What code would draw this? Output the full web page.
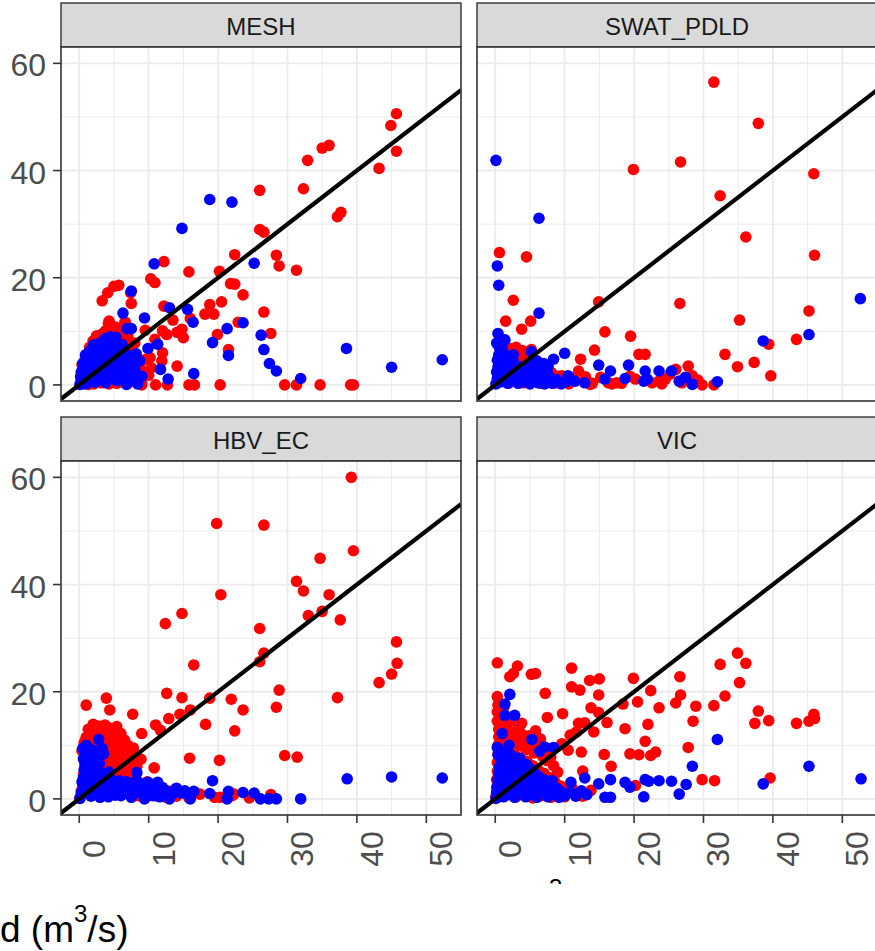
<!DOCTYPE html>
<html>
<head>
<meta charset="utf-8">
<script src="https://cdn.jsdelivr.net/npm/d3@7"></script>
<style>
  body { margin: 0; background: #fff; }
  text { font-family: "Liberation Sans", Arial, sans-serif; }
</style>
</head>
<body>
<div id="wrapper"></div>
<script>
// facet names and ticks
const panels = ["MESH", "SWAT_PDLD", "HBV_EC", "VIC"];
const xTicks = [0, 10, 20, 30, 40, 50];
const yTicks = [0, 20, 40, 60];
const xMinor = [5, 15, 25, 35, 45];
const yMinor = [10, 30, 50];

const meshRed = [
  [45.7,50.6],[44.9,48.4],[45.7,43.6],[43.2,40.4],[36.0,44.7],[35.0,44.2],[32.9,41.9],[32.3,36.6],
  [37.7,32.2],[37.2,31.4],[26.0,36.3],[26.0,29.0],[26.6,28.5],[22.4,24.3],[28.4,24.2],[28.8,22.2],
  [31.3,21.4],[12.2,23.0],[15.8,21.1],[20.2,21.2],[10.3,19.8],[10.9,19.1],[21.8,18.9],[22.4,18.8],
  [23.6,16.8],[26.6,13.6],[27.6,9.6],[20.5,15.5],[18.8,15.0],[19.4,13.2],[18.1,13.2],[22.9,11.7],
  [19.9,9.4],[21.5,6.6],[16.0,12.4],[12.2,14.7],[13.5,12.1],[12.0,10.1],[14.1,9.8],[14.8,10.4],
  [15.0,8.8],[12.6,9.4],[9.5,10.2],[10.9,8.5],[12.0,6.0],[14.1,3.5],[11.9,4.5],[10.2,5.1],
  [11.0,0],[12.7,0],[15.8,0],[16.6,0],[20.3,0],[29.6,0],[31.3,0],[34.7,0],[39.1,0],[39.5,0],
  [9.0,0],[8.3,3.5],[3.3,15.7],[4.1,17.2],[5.0,18.4],[5.7,18.6],[7.4,17.2],[7.5,15.2],[4.3,11.9],
  [3.8,10.1],[2.5,9.1],[6.6,11.7],[5.7,8.5],
  [0.2,0.5],[0.3,2.0],[0.4,3.8],[0.8,4.6],[0.5,1.2],[1.0,2.8],[1.2,5.5],[1.5,7.0],[2.0,8.2],
  [2.5,9.1],[3.0,8.5],[3.4,9.6],[3.8,10.1],[4.2,11.5],[4.6,9.0],[5.2,10.8],[5.7,8.5],[6.1,9.8],
  [6.6,11.7],[5.0,7.5],[6.8,7.2],[7.4,6.0],[7.9,5.0],[8.3,4.2],[8.8,3.1],[9.2,2.4],[7.1,3.8],
  [7.7,2.0],[8.4,1.0],[9.0,0.3],[6.2,1.0],[6.9,0.2],[5.4,0.3],[4.3,0.2],[3.2,0.4],[2.1,0.2],
  [1.3,0.1],[9.6,4.8],[10.4,3.2],[10.0,1.8],[2.8,6.5],[3.6,7.2],[4.4,6.0],[2.2,4.5],[1.7,3.2],
  [6.0,5.5],[8.0,7.8],[7.0,9.0]
];
const meshBlue = [
  [18.8,34.6],[22.0,34.1],[14.8,29.2],[10.8,22.6],[25.2,22.7],[7.5,17.5],[6.3,13.4],[9.4,12.5],
  [13.0,14.4],[15.6,14.1],[16.4,11.7],[23.6,11.6],[21.3,10.5],[26.2,9.3],[26.6,6.6],[27.4,4.0],
  [28.4,2.6],[31.9,1.2],[38.5,6.8],[45.0,3.3],[52.3,4.7],[19.2,7.9],[21.5,5.5],[16.5,2.1],
  [11.7,2.9],[12.8,1.1],[11.3,7.6],[9.9,6.8],[8.3,1.4],[6.8,0.1],[5.3,8.9],[6.9,10.5],[7.5,10.5],
  [8.2,5.8],[8.7,4.5],
  [0.1,0.1],[0.4,0.6],[0.8,1.2],[1.1,0.3],[1.4,2.0],[1.8,1.1],[2.0,3.0],[2.3,0.5],[2.6,2.2],
  [2.9,4.0],[3.1,1.3],[3.3,5.5],[3.5,3.2],[3.8,0.4],[4.0,2.5],[4.2,4.6],[4.4,7.0],[4.6,1.5],
  [4.8,5.8],[5.0,3.6],[5.2,8.3],[5.4,0.8],[5.6,2.7],[5.8,6.6],[6.0,4.4],[6.3,1.9],[6.5,5.2],
  [6.8,3.1],[7.0,0.5],[7.3,2.4],[7.6,4.1],[7.9,1.3],[8.4,0.2],[1.0,4.8],[1.5,6.3],[2.1,7.5],
  [1.6,5.0],[2.5,6.0],[3.0,7.8],[3.7,8.6],[2.2,3.8],[0.6,3.2],[1.2,3.6],[3.9,6.4],[4.5,9.0],
  [6.2,7.5],[0.3,2.4],[0.9,5.6],[5.3,4.0],[2.7,1.0],[3.4,2.0],[4.1,3.6],[5.9,2.6],[6.7,1.1],
  [7.2,3.7],[8.0,2.9],[9.0,1.6],
  [0.5,4.0],[1.3,1.0],[2.4,2.9],[3.2,6.6],[4.3,8.0],[5.5,7.2],[6.6,6.0],[7.4,5.4],[1.9,5.5],
  [2.8,4.9],[3.6,4.4],[4.7,2.2],[5.7,1.4],[6.4,3.7],[0.2,1.5],[1.0,2.4],[3.9,5.0],[5.1,6.2],
  [6.9,4.6],[0.7,0.2]
];

const swatRed = [
  [31.5,56.5],[37.9,48.8],[19.9,40.2],[26.7,41.6],[45.9,39.4],[32.4,35.3],[36.1,27.6],[46.0,24.2],
  [0.6,24.7],[4.5,23.9],[2.6,15.8],[14.9,15.5],[26.6,15.2],[1.5,11.9],[5.1,11.9],[3.8,10.4],
  [15.8,9.9],[19.5,9.1],[35.2,12.1],[45.2,13.8],[43.4,8.5],[39.4,7.6],[33.1,5.7],[34.9,3.4],
  [37.3,4.2],[39.7,1.7],[14.3,6.5],[12.3,4.8],[20.7,5.7],[21.6,5.7],[3.0,7.0],[5.2,6.6],
  [17.5,0.4],[20.2,1.1],[22.6,0.4],[26.0,2.9],[27.8,3.5],[28.4,1.7],[29.8,0],[31.5,0],[23.6,0.7],
  [16.3,0.4],[12.0,2.6],[9.6,1.7],[5.9,3.2],[8.1,2.3],[13.7,0.1],[24.5,1.1],
  [0.2,0.3],[0.5,1.5],[0.8,3.0],[1.0,4.5],[1.5,6.0],[2.1,6.8],[2.8,5.5],[3.2,4.6],[2.5,3.6],
  [3.6,3.0],[4.2,2.5],[4.8,3.5],[5.4,2.0],[6.0,1.2],[6.6,2.6],[7.2,1.8],[7.8,0.8],[8.5,0.3],
  [9.1,1.6],[9.8,0.5],[10.6,0.2],[11.2,1.2],[6.5,0.3],[5.2,0.6],[4.0,0.4],[3.0,1.0],[2.0,0.4],
  [1.2,1.9],[1.8,2.6],[4.6,5.2],[3.9,6.4],[5.6,4.2],[6.3,3.4],[13.0,1.5],[14.0,0.3],[15.2,1.4],
  [16.8,0.2],[18.2,0.3],[19.4,1.6],[24.0,0.2],[25.2,2.0],[26.9,0.4],[29.2,0.9]
];
const swatBlue = [
  [0.1,41.9],[6.3,31.1],[0.3,22.2],[0.5,18.6],[6.3,13.4],[0.4,9.6],[1.4,8.4],[52.6,16.1],
  [45.2,9.4],[38.6,8.2],[32.0,0.6],[10.0,5.9],[14.9,3.7],[16.6,2.6],[19.2,3.7],[18.7,1.2],
  [21.6,2.6],[23.6,2.6],[25.4,2.6],[21.9,1.1],[26.5,0.7],[27.4,1.4],[28.4,0.1],[21.4,0.7],
  [15.8,1.1],[12.9,0.4],[11.5,0.7],[8.4,4.8],[7.6,3.5],[5.2,6.2],[10.5,1.7],
  [0.1,0.2],[0.3,1.2],[0.2,2.4],[0.4,3.4],[0.3,4.6],[0.5,5.6],[0.8,6.4],[0.9,0.6],[1.1,1.8],
  [1.2,3.0],[1.4,4.2],[1.6,5.2],[1.8,0.3],[2.0,1.4],[2.2,2.5],[2.4,3.6],[2.7,0.8],[3.0,1.9],
  [3.3,0.3],[3.6,1.2],[3.9,2.3],[4.2,0.6],[4.6,1.5],[5.0,0.2],[5.4,0.9],[5.8,2.0],[6.2,0.4],
  [6.7,1.3],[7.1,0.2],[7.6,0.8],[8.2,0.3],[8.8,1.0],[9.5,0.2],[10.2,0.6],[0.6,7.0],[1.0,6.8],
  [2.6,4.4],[3.6,3.4],[4.5,3.0],[5.3,3.9],[6.0,4.5],[7.0,4.0],[1.5,0.9],[2.9,2.8],[4.0,1.0],
  [0.7,2.0],[0.2,7.8],[1.2,5.9],[2.0,4.6],[3.2,3.0],[4.8,2.5],[6.4,2.8],[7.6,2.0],[2.6,5.6],
  [0.6,5.0]
];

const hbvRed = [
  [39.2,60.0],[19.8,51.4],[26.6,51.1],[39.5,46.3],[34.7,44.9],[31.3,40.6],[32.3,38.8],[36.0,38.1],
  [20.4,38.1],[33.0,34.2],[35.0,35.0],[37.6,33.4],[14.8,34.6],[12.4,32.7],[26.0,31.8],[26.6,27.2],
  [26.0,25.6],[45.7,29.3],[45.8,25.3],[45.0,23.3],[43.2,21.7],[37.2,18.9],[16.5,25.0],[28.8,20.3],
  [28.4,17.1],[21.9,18.6],[23.6,16.6],[22.4,12.7],[18.2,13.9],[18.8,18.8],[12.6,19.7],[14.8,18.9],
  [14.5,15.8],[16.0,16.6],[12.9,15.0],[11.0,13.8],[11.7,12.8],[15.9,7.6],[20.2,7.2],[29.6,8.1],
  [31.4,7.8],[9.0,12.2],[7.7,15.8],[8.9,7.4],[10.8,5.8],[3.9,18.8],[4.4,16.6],[1.0,17.5],
  [27.6,0.8],[22.3,0.9],[20.3,0.3],[13.6,1.6],[9.8,0.9],
  [0.1,0.2],[0.3,1.5],[0.5,3.0],[0.6,4.5],[0.8,6.0],[0.9,7.5],[1.0,9.0],[1.2,10.5],[1.5,11.8],
  [1.8,12.8],[2.2,13.4],[2.7,13.6],[3.2,13.1],[3.7,13.8],[4.3,13.2],[4.9,12.6],[5.4,13.5],
  [6.0,12.2],[6.5,11.0],[7.0,10.0],[7.4,8.6],[2.0,11.0],[2.6,10.2],[3.3,11.5],[4.0,10.8],
  [4.6,9.8],[5.3,10.8],[5.8,9.2],[6.3,8.1],[3.0,8.8],[3.8,9.0],[4.5,7.6],[5.2,6.8],[6.1,5.8],
  [6.8,5.0],[7.6,4.2],[8.2,3.5],[8.8,2.5],[9.5,1.6],[10.2,0.9],[11.2,0.5],[12.5,0.3],[14.0,0.5],
  [15.8,0.2],[17.4,0.9],[19.5,0.3],[22.0,0.6],[24.5,0.2],[2.4,12.0],[1.4,8.5],[3.5,12.3],
  [6.4,4.0],[7.0,2.8],[8.0,1.5],[5.6,1.2],[4.7,2.6],[6.0,2.2],[7.2,7.0],[8.3,6.1],[1.6,4.0],
  [2.1,6.6],[2.9,5.2],[4.0,4.5],[5.0,3.6],[3.5,2.0],[2.2,1.0],[1.0,2.5],[8.5,0.6],[9.8,3.2],
  [10.4,2.4],[5.5,8.0],[4.2,6.2],[3.6,7.0],
  [1.0,11.5],[1.3,13.0],[2.0,13.9],[2.9,12.6],[3.6,12.6],[4.6,11.4],[5.8,11.0],[6.7,9.5],
  [7.8,9.5],[8.2,8.0],[1.8,9.8],[2.5,8.4],[3.2,9.8],[4.2,8.4],[5.0,8.9],[6.2,6.9],[7.5,5.8],
  [0.7,10.5],[0.4,9.0],[1.3,5.6],[2.5,4.2],[3.5,5.8],[4.8,5.2],[5.8,4.6],[7.0,3.8]
];
const hbvBlue = [
  [38.6,3.75],[45.0,4.1],[52.3,3.9],[31.9,0],[19.2,3.4],[8.3,4.9],[9.9,3.1],[11.3,3.1],
  [2.8,11.1],[3.5,8.4],[10.8,1.4],[12.6,1.5],[14.8,1.1],[16.5,1.4],[18.8,1.0],[21.5,1.4],
  [23.6,1.2],[25.2,1.1],[26.1,0],[27.3,0],[28.4,0],[16.0,0],[21.3,0],[9.4,0],[13.0,0],
  [0.1,0.1],[0.3,1.2],[0.5,2.6],[0.6,4.0],[0.7,5.4],[0.8,6.8],[0.9,8.0],[1.2,9.0],[1.6,9.3],
  [2.2,9.0],[2.8,8.0],[1.3,7.2],[1.8,6.4],[2.3,5.6],[2.9,6.6],[3.4,4.8],[1.5,3.5],[2.0,2.4],
  [2.6,3.8],[3.1,2.8],[3.7,1.6],[1.1,1.5],[1.7,0.5],[2.4,0.9],[3.0,0.3],[3.5,3.5],[4.0,2.4],
  [4.5,1.2],[5.0,3.0],[5.5,2.0],[6.0,0.6],[6.5,2.6],[7.0,1.5],[7.5,0.3],[8.0,2.4],[8.5,1.2],
  [9.0,2.2],[9.6,0.6],[4.2,0.4],[5.2,0.7],[6.8,3.2],[7.8,3.0],[4.6,3.6],[5.8,3.4],[3.8,4.2],
  [2.5,7.2],[1.9,8.1],[0.4,3.2],[3.3,9.4],[2.0,4.6],[4.3,5.0],[10.2,2.0],[11.0,1.6],[12.0,2.1],
  [13.5,1.0],
  [0.5,9.4],[1.0,10.0],[1.4,8.0],[2.2,7.8],[0.6,7.5],[1.1,6.2],[1.6,5.0],[2.4,4.4],[3.0,4.2],
  [1.3,2.6],[0.9,3.6],[2.7,1.8],[3.8,3.2],[4.4,2.2],[5.4,1.2],[6.2,1.6],[7.3,2.5],[8.7,3.0],
  [9.6,1.8],[10.6,0.6],[11.6,0.4],[12.8,1.0],[14.0,2.0],[15.2,1.5]
];

const vicRed = [
  [34.9,27.2],[36.1,25.3],[32.4,25.1],[35.2,21.7],[33.1,19.2],[31.5,17.4],[28.9,17.3],[26.6,22.8],
  [26.7,19.4],[26.0,17.9],[28.5,14.5],[37.9,16.4],[37.4,14.1],[39.4,14.6],[43.4,14.1],[45.9,15.8],
  [46.0,15.0],[45.2,14.5],[39.6,3.9],[29.8,3.6],[31.6,3.4],[27.8,9.6],[19.9,22.5],[22.4,20.2],
  [20.5,18.1],[23.6,17.0],[22.0,13.9],[18.7,13.1],[21.6,10.75],[19.4,8.4],[20.7,8.25],[23.1,8.75],
  [22.4,8.1],[16.7,6.1],[15.7,8.3],[18.4,17.7],[14.9,19.4],[15.0,22.4],[13.6,22.1],[11.0,24.4],
  [11.0,20.9],[12.2,20.3],[13.8,17.0],[14.9,16.1],[16.1,14.25],[14.2,12.5],[12.0,14.1],[12.9,14.2],
  [9.7,15.9],[7.5,15.2],[7.2,19.7],[5.2,23.25],[5.8,23.4],[3.2,24.8],[2.1,22.8],[2.6,23.4],
  [0.3,25.4],[0.3,19.1],[0.3,16.25],[20.2,2.5],[12.6,5.2],[10.5,9.1],[12.4,8.75],[10.8,11.9],
  [11.7,12.5],[9.6,10.3],[5.8,12.7],[3.8,14.1],
  [0.1,0.5],[0.2,2.0],[0.2,3.6],[0.3,5.2],[0.3,6.8],[0.4,8.4],[0.4,10.0],[0.5,11.6],[0.5,13.0],
  [1.2,12.4],[1.8,11.0],[2.4,12.2],[3.0,11.5],[3.5,10.0],[4.0,11.0],[4.4,9.2],[5.0,10.0],
  [5.6,8.6],[6.2,9.6],[6.8,8.0],[7.4,7.2],[8.0,7.8],[2.0,9.2],[2.8,8.2],[3.6,7.6],[4.6,7.0],
  [5.4,6.2],[6.2,5.4],[7.0,4.8],[7.8,4.0],[8.6,3.2],[9.4,2.4],[10.2,1.6],[11.0,2.2],[12.0,1.2],
  [1.0,8.0],[1.5,6.4],[2.3,5.6],[3.1,4.8],[4.0,4.0],[5.0,3.2],[6.0,2.0],[7.0,1.0],[8.0,0.3],
  [5.4,0.2],[4.6,1.2],[9.0,0.8],[10.0,0.4],[1.0,3.2],[1.6,1.2],[3.0,0.4],[6.6,0.6],[12.6,0.5],
  [13.8,1.6],[0.8,14.3],[1.6,13.6],[3.2,13.0],[2.2,14.5],
  [0.6,15.5],[0.4,17.5],[1.0,15.0],[1.5,10.0],[2.6,10.5],[3.6,12.4],[4.8,11.8],[5.6,11.0],
  [6.5,11.2],[7.5,9.4],[8.4,6.2],[9.0,5.0],[1.2,17.0],[0.3,14.5]
];
const vicBlue = [
  [2.1,19.5],[1.4,17.7],[1.4,15.6],[2.8,15.6],[32.0,11.1],[28.4,6.1],[45.2,6.1],[52.7,3.75],
  [38.6,2.8],[12.9,3.9],[16.6,3.6],[14.9,2.8],[18.7,3.1],[19.4,2.2],[21.6,3.6],[22.1,3.3],
  [23.6,3.4],[25.4,3.3],[27.5,2.7],[26.5,0.9],[15.8,0.3],[16.6,0.3],[21.4,0.4],[13.2,0.8],
  [11.7,0.9],[10.9,3.1],[1.0,12.2],[5.3,11.1],[6.4,8.9],[7.1,9.7],[8.4,9.6],
  [0.1,0.1],[0.2,1.2],[0.3,2.4],[0.4,3.6],[0.5,4.8],[0.6,6.0],[0.8,7.2],[1.0,8.2],[1.5,8.6],
  [2.0,7.6],[2.5,8.0],[3.0,7.0],[3.5,7.6],[1.2,5.4],[1.8,6.2],[2.4,5.0],[3.0,5.8],[3.6,4.6],
  [4.2,5.4],[1.0,3.0],[1.6,2.0],[2.2,3.2],[2.8,2.2],[3.4,3.0],[4.0,2.0],[4.6,3.2],[5.2,2.2],
  [5.8,3.4],[6.4,2.4],[7.0,3.6],[7.6,2.6],[8.2,3.4],[8.8,2.0],[9.4,1.4],[10.0,0.6],[1.2,0.4],
  [2.0,0.8],[2.8,0.3],[3.6,1.0],[4.4,0.4],[5.2,0.9],[6.0,0.3],[6.8,1.0],[7.6,0.4],[8.4,0.9],
  [9.2,0.3],[4.8,4.4],[5.6,5.0],[6.2,4.2],[0.6,9.0],[2.0,10.0],[0.3,9.6],[10.8,1.2],[11.6,0.5],
  [12.4,1.5],
  [0.9,1.8],[1.4,4.0],[2.0,4.2],[2.6,6.6],[3.3,6.4],[3.9,5.8],[4.5,6.4],[5.0,5.6],[5.5,3.9],
  [6.6,3.0],[7.3,1.8],[8.0,1.6],[1.8,7.4],[0.4,8.2],[3.0,1.4],[4.2,1.2],[5.0,1.6],[6.4,1.6]
];

const redSeries = [meshRed, swatRed, hbvRed, vicRed];
const blueSeries = [meshBlue, swatBlue, hbvBlue, vicBlue];

function drawChart() {
  const xAccessor = (d) => d[0];
  const yAccessor = (d) => d[1];

  // dimensions
  const dimensions = {
    width: 875,
    height: 951,
    panelLeft: 61,
    panelTop: 3,
    panelWidth: 400,
    panelHeight: 354,
    stripHeight: 44,
    colStep: 416,
    rowStep: 414,
  };

  const svg = d3
    .select("#wrapper")
    .append("svg")
    .attr("width", dimensions.width)
    .attr("height", dimensions.height);

  // scales (shared by every facet)
  const xScale = d3
    .scaleLinear()
    .domain([-2.63, 55.0])
    .range([0, dimensions.panelWidth]);

  const yScale = d3
    .scaleLinear()
    .domain([-3.0, 63.05])
    .range([dimensions.panelHeight, 0]);

  const defs = svg.append("defs");

  panels.forEach((name, i) => {
    const col = i % 2;
    const row = Math.floor(i / 2);
    const left = dimensions.panelLeft + col * dimensions.colStep;
    const stripTop = dimensions.panelTop + row * dimensions.rowStep;
    const top = stripTop + dimensions.stripHeight;

    // strip
    const strip = svg.append("g").attr("transform", `translate(${left},${stripTop})`);
    strip
      .append("rect")
      .attr("width", dimensions.panelWidth)
      .attr("height", dimensions.stripHeight)
      .attr("fill", "#d9d9d9")
      .attr("stroke", "#333333")
      .attr("stroke-width", 1.4);
    strip
      .append("text")
      .attr("x", dimensions.panelWidth / 2)
      .attr("y", 31.5)
      .attr("text-anchor", "middle")
      .attr("font-size", 24)
      .attr("fill", "#1a1a1a")
      .text(name);

    const bounds = svg.append("g").attr("transform", `translate(${left},${top})`);

    defs
      .append("clipPath")
      .attr("id", `clip-${i}`)
      .append("rect")
      .attr("width", dimensions.panelWidth)
      .attr("height", dimensions.panelHeight);

    bounds
      .append("rect")
      .attr("width", dimensions.panelWidth)
      .attr("height", dimensions.panelHeight)
      .attr("fill", "#ffffff");

    // grid
    const grid = bounds.append("g");
    grid
      .selectAll(".xminor")
      .data(xMinor)
      .join("line")
      .attr("x1", (d) => xScale(d))
      .attr("x2", (d) => xScale(d))
      .attr("y1", 0)
      .attr("y2", dimensions.panelHeight)
      .attr("stroke", "#ebebeb")
      .attr("stroke-width", 1);
    grid
      .selectAll(".yminor")
      .data(yMinor)
      .join("line")
      .attr("y1", (d) => yScale(d))
      .attr("y2", (d) => yScale(d))
      .attr("x1", 0)
      .attr("x2", dimensions.panelWidth)
      .attr("stroke", "#ebebeb")
      .attr("stroke-width", 1);
    grid
      .append("g")
      .selectAll("line")
      .data(xTicks)
      .join("line")
      .attr("x1", (d) => xScale(d))
      .attr("x2", (d) => xScale(d))
      .attr("y1", 0)
      .attr("y2", dimensions.panelHeight)
      .attr("stroke", "#ebebeb")
      .attr("stroke-width", 1.8);
    grid
      .append("g")
      .selectAll("line")
      .data(yTicks)
      .join("line")
      .attr("y1", (d) => yScale(d))
      .attr("y2", (d) => yScale(d))
      .attr("x1", 0)
      .attr("x2", dimensions.panelWidth)
      .attr("stroke", "#ebebeb")
      .attr("stroke-width", 1.8);

    // points
    const marks = bounds.append("g").attr("clip-path", `url(#clip-${i})`);
    marks
      .append("g")
      .selectAll("circle")
      .data(redSeries[i])
      .join("circle")
      .attr("cx", (d) => xScale(xAccessor(d)))
      .attr("cy", (d) => yScale(yAccessor(d)))
      .attr("r", 5.8)
      .attr("fill", "#ff0000");
    marks
      .append("g")
      .selectAll("circle")
      .data(blueSeries[i])
      .join("circle")
      .attr("cx", (d) => xScale(xAccessor(d)))
      .attr("cy", (d) => yScale(yAccessor(d)))
      .attr("r", 5.8)
      .attr("fill", "#0000ff");

    // 1:1 line
    marks
      .append("line")
      .attr("x1", xScale(-2.63))
      .attr("y1", yScale(-2.63))
      .attr("x2", xScale(55))
      .attr("y2", yScale(55))
      .attr("stroke", "#000000")
      .attr("stroke-width", 4.2);

    bounds
      .append("rect")
      .attr("width", dimensions.panelWidth)
      .attr("height", dimensions.panelHeight)
      .attr("fill", "none")
      .attr("stroke", "#333333")
      .attr("stroke-width", 1.6);

    // y axis on left column
    if (col === 0) {
      const yAxis = bounds.append("g");
      yAxis
        .selectAll("line")
        .data(yTicks)
        .join("line")
        .attr("x1", -8)
        .attr("x2", 0)
        .attr("y1", (d) => yScale(d))
        .attr("y2", (d) => yScale(d))
        .attr("stroke", "#333333")
        .attr("stroke-width", 1.6);
      yAxis
        .selectAll("text")
        .data(yTicks)
        .join("text")
        .attr("x", -15)
        .attr("y", (d) => yScale(d) + 13)
        .attr("text-anchor", "end")
        .attr("font-size", 32)
        .attr("fill", "#4d4d4d")
        .text((d) => d);
    }

    // x axis on bottom row
    if (row === 1) {
      const xAxis = bounds.append("g").attr("transform", `translate(0,${dimensions.panelHeight})`);
      xAxis
        .selectAll("line")
        .data(xTicks)
        .join("line")
        .attr("x1", (d) => xScale(d))
        .attr("x2", (d) => xScale(d))
        .attr("y1", 0)
        .attr("y2", 8)
        .attr("stroke", "#333333")
        .attr("stroke-width", 1.6);
      xAxis
        .selectAll("text")
        .data(xTicks)
        .join("text")
        .attr("transform", (d) => `translate(${xScale(d) + 26},34) rotate(-90)`)
        .attr("text-anchor", "middle")
        .attr("font-size", 32)
        .attr("fill", "#4d4d4d")
        .text((d) => d);
    }
  });

  // cut-off axis title fragments
  const title = svg
    .append("text")
    .attr("x", 0)
    .attr("y", 942)
    .attr("font-size", 37)
    .attr("fill", "#000000");
  title.append("tspan").text("d (m");
  title.append("tspan").attr("font-size", 24).attr("dy", -20).text("3");
  title.append("tspan").attr("dy", 20).text("/s)");

  defs
    .append("clipPath")
    .attr("id", "clip-title")
    .append("rect")
    .attr("x", 540)
    .attr("y", 870)
    .attr("width", 40)
    .attr("height", 14);
  svg
    .append("text")
    .attr("x", 549)
    .attr("y", 896)
    .attr("font-size", 24)
    .attr("fill", "#000000")
    .attr("clip-path", "url(#clip-title)")
    .text("3");
}
drawChart();
</script>
</body>
</html>
